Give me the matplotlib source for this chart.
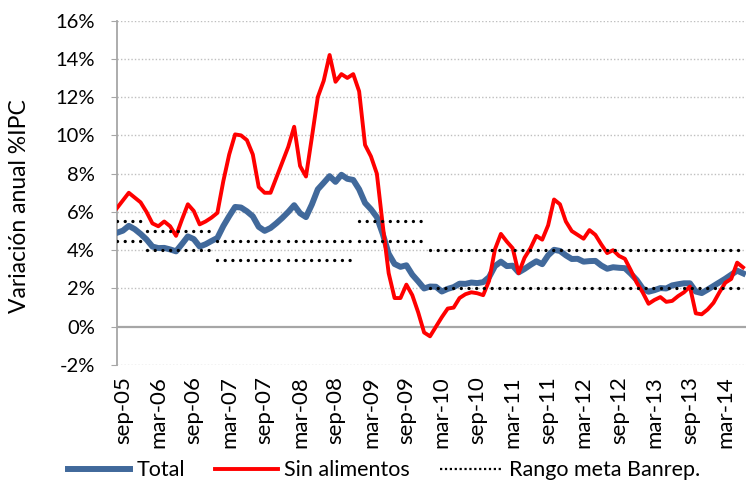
import matplotlib.pyplot as plt
from matplotlib.lines import Line2D

plt.rcParams['font.family'] = ['Lato', 'DejaVu Sans']

# meses: ago-05 .. jun-14
abrev = ["ene", "feb", "mar", "abr", "may", "jun", "jul", "ago", "sep", "oct", "nov", "dic"]
meses = []
for anio in range(2005, 2015):
    for m, nombre in enumerate(abrev):
        if (anio == 2005 and m < 7) or (anio == 2014 and m > 5):
            continue
        meses.append(f"{nombre}-{str(anio)[2:]}")

total = [4.91, 5.02, 5.27, 5.10, 4.85,
         4.56, 4.19, 4.11, 4.12, 4.04, 3.94, 4.32, 4.72, 4.58, 4.19, 4.31, 4.48,
         4.64, 5.26, 5.78, 6.26, 6.23, 6.03, 5.77, 5.22, 5.01, 5.16, 5.41, 5.69,
         6.00, 6.35, 5.93, 5.73, 6.39, 7.18, 7.52, 7.87, 7.57, 7.94, 7.73, 7.67,
         7.18, 6.47, 6.14, 5.73, 4.85, 3.81, 3.28, 3.13, 3.21, 2.72, 2.37, 2.00,
         2.10, 2.09, 1.84, 1.98, 2.07, 2.25, 2.24, 2.31, 2.28, 2.33, 2.59, 3.17,
         3.40, 3.17, 3.19, 2.84, 3.02, 3.23, 3.42, 3.27, 3.73, 4.02, 3.96, 3.73,
         3.54, 3.55, 3.40, 3.43, 3.44, 3.20, 3.03, 3.11, 3.08, 3.06, 2.77, 2.44,
         2.00, 1.83, 1.91, 2.02, 2.00, 2.16, 2.22, 2.27, 2.27, 1.84, 1.76, 1.94,
         2.13, 2.32, 2.51, 2.72, 2.93, 2.79]

sin_alimentos = [6.2, 6.6, 7.0, 6.75, 6.5,
                 6.0, 5.4, 5.25, 5.5, 5.25, 4.75, 5.6, 6.4, 6.05, 5.35, 5.5, 5.7,
                 5.95, 7.6, 9.0, 10.05, 10.0, 9.75, 9.0, 7.3, 7.0, 7.0, 7.8, 8.6,
                 9.4, 10.45, 8.4, 7.85, 9.9, 12.0, 12.85, 14.2, 12.8, 13.2, 13.0, 13.2,
                 12.3, 9.5, 8.9, 8.0, 5.3, 2.8, 1.5, 1.5, 2.2, 1.65, 0.75, -0.3,
                 -0.5, 0.0, 0.5, 0.95, 1.0, 1.5, 1.7, 1.8, 1.75, 1.65, 2.4, 4.05,
                 4.85, 4.45, 4.1, 2.8, 3.6, 4.1, 4.75, 4.55, 5.3, 6.65, 6.4, 5.5,
                 5.0, 4.8, 4.6, 5.05, 4.8, 4.3, 3.85, 4.0, 3.7, 3.55, 2.95, 2.3,
                 1.8, 1.2, 1.4, 1.55, 1.3, 1.35, 1.6, 1.8, 2.1, 0.7, 0.65, 0.9,
                 1.25, 1.8, 2.3, 2.5, 3.35, 3.1]

# rango meta del Banco de la Republica por tramo
meta_inicio = ["ago-05", "ene-06", "ene-07", "ene-08", "ene-09", "ene-10"]
meta_fin = ["dic-05", "dic-06", "dic-07", "dic-08", "dic-09", "jun-14"]
meta_min = [4.5, 4.0, 3.5, 3.5, 4.5, 2.0]
meta_max = [5.5, 5.0, 4.5, 4.5, 5.5, 4.0]

etiquetas_x = meses[1::6]

azul = "#41699B"
rojo = "#FF0000"
gris = "#A6A6A6"

fig = plt.figure(figsize=(7.46, 4.82), dpi=100)
ax = fig.add_axes([0.1568, 0.2427, 0.8432, 0.7147])

x = range(len(meses))
ax.plot(x, total, color=azul, lw=4.3, solid_joinstyle='round', zorder=3)
ax.plot(x, sin_alimentos, color=rojo, lw=2.8, solid_joinstyle='round', zorder=4)

for a, b, lo, hi in zip(meta_inicio, meta_fin, meta_min, meta_max):
    i0, i1 = meses.index(a), meses.index(b)
    for v in (lo, hi):
        ax.plot([i0, i1], [v, v], color="black", lw=2.4,
                linestyle=(0, (0.01, 2.3)), dash_capstyle='round', zorder=5)

ax.set_ylim(-2, 16)
ax.set_xlim(0, 106.5)
ax.set_yticks(range(-2, 17, 2))
ax.set_yticklabels([f"{v}%" for v in range(-2, 17, 2)])
ax.set_xticks(range(1, len(meses), 6))
ax.set_xticklabels(etiquetas_x, rotation=90)

for v in range(-2, 17, 2):
    if v != 0:
        ax.axhline(v, color="#BFBFBF", lw=1, linestyle=(0, (1, 1.5)), zorder=1)
ax.axhline(0, color=gris, lw=1.6, zorder=2)

for s in ("top", "right", "bottom"):
    ax.spines[s].set_visible(False)
ax.spines["left"].set_color(gris)
ax.spines["left"].set_linewidth(1.3)

ax.tick_params(axis="y", length=4, color=gris, pad=12, labelsize=14.5)
ax.tick_params(axis="x", length=0, pad=8, labelsize=16)

ax.set_ylabel("Variación anual %IPC", fontsize=16.5)
ax.yaxis.set_label_coords(-0.138, 0.46)

handles = [Line2D([], [], color=azul, lw=4.3),
           Line2D([], [], color=rojo, lw=2.8),
           Line2D([], [], color="black", lw=1.6, linestyle=(0, (1, 1.2)))]
fig.legend(handles, ["Total", "Sin alimentos", "Rango meta Banrep."],
           loc="center", bbox_to_anchor=(0.515, 0.024), ncol=3, frameon=False,
           fontsize=15.5, handlelength=2.9, handletextpad=0.3, columnspacing=1.4)

fig.savefig("out.png", dpi=100)
